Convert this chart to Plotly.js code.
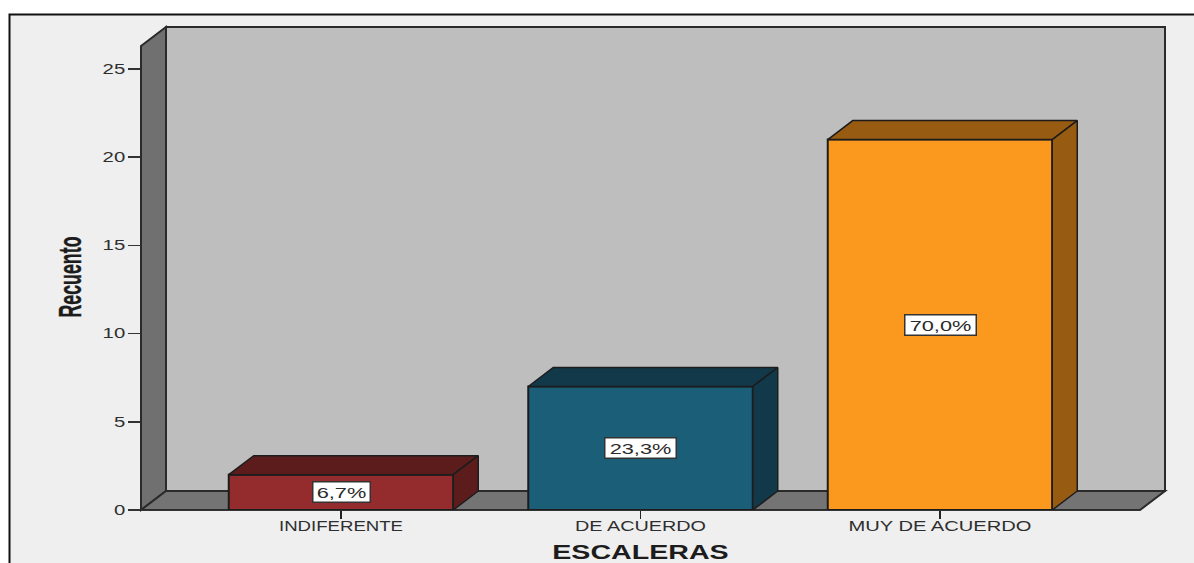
<!DOCTYPE html>
<html>
<head>
<meta charset="utf-8">
<script src="https://cdn.plot.ly/plotly-3.0.1.min.js"></script>
<style>html,body{margin:0;padding:0;background:#fff;overflow:hidden}</style>
</head>
<body>
<div id="chart" style="width:1194px;height:563px"></div>
<script>
// Survey response counts by scale category
const categories = ["INDIFERENTE", "DE ACUERDO", "MUY DE ACUERDO"];
const counts = [2, 7, 21];
const percentLabels = ["6,7%", "23,3%", "70,0%"];
const frontColors = ["#942c2e", "#1a5e78", "#fb991e"];
const shadeColors = ["#5c1c1c", "#12394a", "#975b12"];
const yTicks = [0, 5, 10, 15, 20, 25];
const categoryLabelWidths = [124, 131, 183];

const W = 1194, H = 563;
const plot = {l: 141, r: 1140, t: 27, b: 510};
const pxX = (p) => (p - plot.l) / (plot.r - plot.l);
const pxY = (p) => (plot.b - p) / (plot.b - plot.t);

// Pseudo-3D extrusion: 25px right and 19px up, expressed in axis units
const xRange = [-0.6678, 2.6678];
const yMax = 27.38;
const unitX = (plot.r - plot.l) / (xRange[1] - xRange[0]);
const unitY = (plot.b - plot.t) / yMax;
const depthX = 25 / unitX, depthY = 19 / unitY;
const barWidth = 224.5 / unitX;
const edge = "#1c1c1c";

function pathFromPx(points) {
  return "M" + points.map(p => pxX(p[0]) + "," + pxY(p[1])).join("L") + "Z";
}
const wallShape = (points, fill) => ({
  type: "path", xref: "paper", yref: "paper", layer: "below",
  path: pathFromPx(points), fillcolor: fill,
  line: {color: "#2a2a2a", width: 2}
});

const shapes = [
  // panel behind the chart
  {type: "rect", xref: "paper", yref: "paper", layer: "below",
   x0: pxX(9.5), x1: pxX(1210), y0: pxY(580), y1: pxY(14.5),
   fillcolor: "#efefef", line: {color: "#111", width: 2}},
  // back wall, left wall, floor
  wallShape([[166, 27], [1165, 27], [1165, 491], [166, 491]], "#bebebe"),
  wallShape([[141, 46], [166, 27], [166, 491], [141, 510]], "#707070"),
  wallShape([[141, 510], [166, 491], [1165, 491], [1140, 510]], "#747474")
];

const frontBars = {
  type: "bar",
  x: counts.map((_, i) => i),
  y: counts,
  width: barWidth,
  marker: {color: frontColors, line: {color: edge, width: 2}},
  hoverinfo: "skip"
};

// Top and side faces of each bar, derived from its count
const faces = [];
counts.forEach((v, i) => {
  const a = i - barWidth / 2, b = i + barWidth / 2;
  const style = {
    type: "scatter", mode: "lines", fill: "toself", fillcolor: shadeColors[i],
    line: {color: edge, width: 1.5}, hoverinfo: "skip", showlegend: false
  };
  faces.push(Object.assign({}, style, {
    x: [a, a + depthX, b + depthX, b, a],
    y: [v, v + depthY, v + depthY, v, v]
  }));
  faces.push(Object.assign({}, style, {
    x: [b, b + depthX, b + depthX, b, b],
    y: [v, v + depthY, depthY, 0, v]
  }));
});

const valueBoxes = counts.map((v, i) => ({
  x: i, y: v / 2, xref: "x", yref: "y", text: percentLabels[i], showarrow: false,
  font: {family: "Liberation Sans", size: 15, color: "#2a2a2a"},
  bgcolor: "#ffffff", bordercolor: "#333", borderwidth: 1.5, borderpad: 0,
  width: 14 * percentLabels[i].length, height: 19
}));

const layout = {
  width: W, height: H, autosize: false,
  margin: {l: plot.l, r: W - plot.r, t: plot.t, b: H - plot.b, pad: 0},
  paper_bgcolor: "#ffffff", plot_bgcolor: "rgba(0,0,0,0)",
  showlegend: false, bargap: 0,
  font: {family: "Liberation Sans", color: "#222"},
  xaxis: {
    range: xRange, tickmode: "array", tickvals: categories.map((_, i) => i), ticktext: categories,
    ticks: "outside", ticklen: 8, tickwidth: 1.5, tickcolor: "#222", ticklabelstandoff: -5,
    showgrid: false, zeroline: false, showline: true, linecolor: "#333", linewidth: 1,
    tickfont: {family: "Liberation Sans", size: 14, color: "#2e2e2e"},
    title: {text: "ESCALERAS", standoff: 17, font: {family: "Liberation Sans", size: 20, weight: 700, color: "#1c1c1c"}}
  },
  yaxis: {
    range: [0, yMax], tickmode: "array", tickvals: yTicks,
    ticks: "outside", ticklen: 12, tickwidth: 1.5, tickcolor: "#333",
    showgrid: false, zeroline: false, showline: false,
    tickfont: {family: "Liberation Sans", size: 14, color: "#2e2e2e"},
    title: {text: "Recuento", standoff: 18, font: {family: "Liberation Sans", size: 31, weight: 700, color: "#1c1c1c"}}
  },
  shapes: shapes,
  annotations: valueBoxes
};

// The original artwork has anisotropically scaled lettering
function fitText(t, width) {
  t.setAttribute("textLength", width.toFixed(1));
  t.setAttribute("lengthAdjust", "spacingAndGlyphs");
}
function stretch(selector, factor) {
  document.querySelectorAll(selector).forEach(t => fitText(t, t.getComputedTextLength() * factor));
}

Plotly.newPlot("chart", [frontBars].concat(faces), layout, {displayModeBar: false, staticPlot: true}).then(() => {
  document.querySelectorAll(".xtick text").forEach((t, i) => fitText(t, categoryLabelWidths[i]));
  stretch(".ytick text", 1.45);
  stretch(".xtitle", 1.43);
  fitText(document.querySelector(".ytitle"), 81);
  stretch(".annotation-text", 1.45);
  // the value-axis title sits slightly below the middle of the axis
  const yt = document.querySelector(".ytitle");
  yt.setAttribute("transform", "translate(0,8.5) " + (yt.getAttribute("transform") || ""));
  yt.style.stroke = "#1c1c1c";
  yt.style.strokeWidth = "0.4px";
});
</script>
</body>
</html>
